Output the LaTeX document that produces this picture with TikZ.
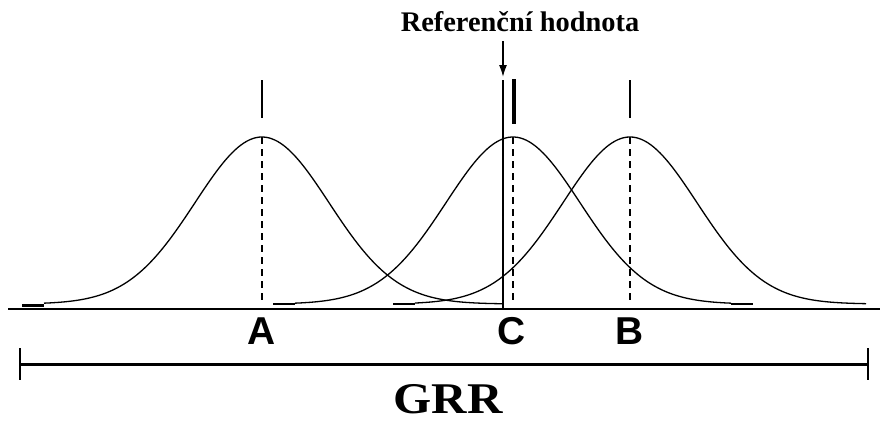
\documentclass[tikz,border=0pt]{standalone}
\usepackage{fontspec}
\setmainfont{Liberation Serif}
\setsansfont{Liberation Sans}
\usetikzlibrary{arrows.meta}
\tikzset{
    gauss/.style={line width=1.3bp},
    peakmark/.style={line width=2bp},
    mean/.style={line width=1.6bp, dash pattern=on 7bp off 5bp},
    letter/.style={font=\sffamily\bfseries\fontsize{39}{39}\selectfont, inner sep=0pt}
}
\begin{document}
\begin{tikzpicture}[x=1bp, y=-1bp]
    \useasboundingbox (0,0) rectangle (882,421);
    % axis
    \coordinate (axL) at (8,309);
    \coordinate (axR) at (880,309);
    \draw[line width=2bp] (axL) -- (axR);
    % three distributions: centre / left end / right end
    \foreach \c/\a/\b in {262/44/502, 513/295/731, 630/415/866}
        \draw[gauss] plot[domain=\a:\b, samples=150] (\x, {304-167*exp(-((\x-\c)/67)^2/2)});
    \draw[line width=3bp] (22,305) -- (44,305);
    \draw[line width=2bp] (273,304) -- (295,304);
    \draw[line width=2bp] (393,304) -- (415,304);
    \draw[line width=2bp] (731,304) -- (753,304);
    % means
    \draw[mean] (262,137) -- (262,305);
    \draw[mean] (513,137) -- (513,305);
    \draw[mean] (630,137) -- (630,305);
    \draw[peakmark] (262,80) -- (262,118);
    \draw[line width=3.5bp] (514,79) -- (514,124);
    \draw[peakmark] (630,80) -- (630,118);
    \node[letter] (A) at (262,331) {A};
    \node[letter] (C) at (512,331) {C};
    \node[letter] (B) at (630,331) {B};
    % reference value
    \node[font=\bfseries\fontsize{28.5}{28.5}\selectfont, inner sep=0pt] (reftext) at (520,22) {Referenční hodnota};
    \coordinate (ref) at (503,80);
    \draw[line width=2.2bp] (ref) -- (503,309);
    \draw[line width=1.6bp, -{Latex[length=12bp,width=8bp]}] (503,41) -- (503,77);
    % GRR range
    \coordinate (grrL) at (20,364);
    \coordinate (grrR) at (868,364);
    \draw[line width=3bp] (grrL) -- (grrR);
    \draw[line width=2bp] (20,348) -- (20,380);
    \draw[line width=2bp] (868,348) -- (868,380);
    \node[font=\bfseries\fontsize{44}{44}\selectfont, inner sep=0pt] (grr) at (448,399) {\scalebox{1.12}[1]{GRR}};
\end{tikzpicture}
\end{document}
